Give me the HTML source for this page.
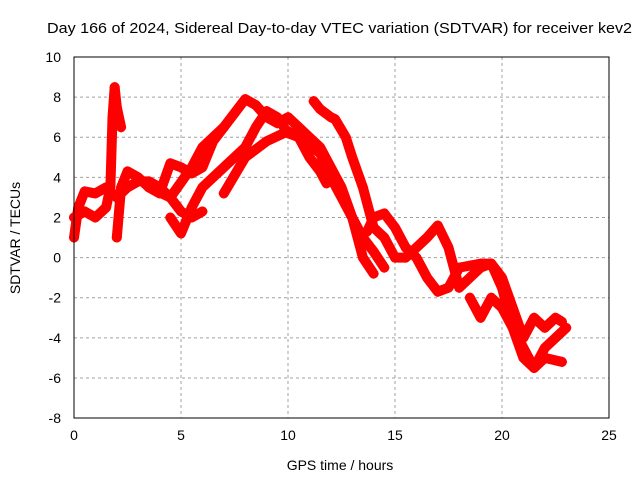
<!DOCTYPE html>
<html><head><meta charset="utf-8"><style>
body{margin:0;background:#fff}
svg text{font-family:"Liberation Sans",sans-serif;font-size:14px;fill:#000}
</style></head><body>
<svg id="c" width="640" height="480">
<text x="47" y="33" textLength="585" lengthAdjust="spacingAndGlyphs" style="font-size:15px">Day 166 of 2024, Sidereal Day-to-day VTEC variation (SDTVAR) for receiver kev2</text>
<text x="340" y="470" text-anchor="middle">GPS time / hours</text>
<text transform="translate(20,238) rotate(-90)" text-anchor="middle">SDTVAR / TECUs</text>
<g id="grid"></g><g id="marks"></g>
<rect x="74" y="57" width="535" height="361" fill="none" stroke="#000"/>
</svg>
<script>
const xTicks=[0,5,10,15,20,25];
const yTicks=[-8,-6,-4,-2,0,2,4,6,8,10];
const trA_x=[3.5,4.5,5.5,6,7,7.5,8,8.5,9,9.5,10,10.5,11,11.5,12,12.5,13,13.5,14];
const trA_y=[3.5,3,4.5,5.5,6.5,7.2,7.9,7.6,7,6.7,7,6.5,6,5.5,4.5,3.5,2,0,-0.8];
const trB_x=[4.5,5,5.5,6,7,8,8.5,9,9.5,10,10.5,11,11.5,11.8];
const trB_y=[2,1.2,2.5,3.5,4.5,5.5,6.5,7.3,7,6.2,6,5,4.3,3.7];
const trC_x=[7,8,9,10,10.5,11,11.5,12,12.5,13,13.5,14,14.5];
const trC_y=[3.2,5,5.8,6.3,6,5.6,5.2,4,3,2,1,0.3,-0.5];
const trD_x=[11.2,11.5,12,12.2,12.7,13,13.5,14,14.5,15,15.5,16,16.5,17,17.5,18,18.5,19,19.5,20,20.5,21,21.5,22,22.5,23];
const trD_y=[7.8,7.4,7,6.9,6,5,3.5,1.5,1,0,0,0.5,1,1.6,0.5,-1.5,-1,-0.5,-0.3,-1.5,-3.5,-4.5,-5.5,-4.5,-4,-3.5];
const trE_x=[13.7,14,14.5,15,15.5,16,16.5,17,17.5,18,19,19.5,20,20.5,21,21.5,22,22.5,22.8];
const trE_y=[1.3,2,2.2,1.5,0.5,0,-1,-1.7,-1.5,-0.5,-0.3,-0.3,-1,-2.5,-4,-3,-3.5,-3,-3.2];
const trF_x=[18.5,19,19.5,20,20.5,21,21.5,22,22.8];
const trF_y=[-2,-3,-2,-2.5,-3.5,-5,-5.5,-5,-5.2];
const trG_x=[0,0.2,0.5,1,1.5,2,2.5,3,3.5,4,4.5,5,5.5,6];
const trG_y=[1,2.5,3.3,3.2,3.5,3,3.5,3.8,3.8,3.5,3,2.3,2,2.3];
const trH_x=[0,0.5,1,1.5,1.7,1.8,1.9,2,2.2];
const trH_y=[2,2.3,2,2.5,3.5,7,8.5,7.5,6.5];
const trI_x=[2,2.2,2.5,3,3.5,4,4.5,5,5.5,6,6.5,7];
const trI_y=[1,3.5,4.3,4,3.5,3.2,4.7,4.5,4.2,4.5,5.8,6.5];
const series=[[trA_x,trA_y],[trB_x,trB_y],[trC_x,trC_y],[trD_x,trD_y],[trE_x,trE_y],[trF_x,trF_y],[trG_x,trG_y],[trH_x,trH_y],[trI_x,trI_y]];
const X=v=>74+v*535/25, Y=v=>257.6-v*20.06;
const NS="http://www.w3.org/2000/svg";
const grid=document.getElementById('grid'), marks=document.getElementById('marks');
function mk(tag,at,par){const e=document.createElementNS(NS,tag);for(const k in at)e.setAttribute(k,at[k]);par.appendChild(e);return e;}
xTicks.forEach(t=>{
 if(t>0&&t<25){const l=mk('line',{x1:X(t),x2:X(t),y1:57,y2:418,stroke:'#a0a0a0','stroke-dasharray':'3,3'},grid);
 
 }
 const tx=mk('text',{x:X(t),y:440,'text-anchor':'middle'},grid);tx.textContent=t;
 
 
});
yTicks.forEach(t=>{
 if(t>-8&&t<10){const l=mk('line',{x1:74,x2:609,y1:Y(t),y2:Y(t),stroke:'#a0a0a0','stroke-dasharray':'3,3'},grid);
 
 }
 const tx=mk('text',{x:61,y:Y(t)+5,'text-anchor':'end'},grid);tx.textContent=t;
 
 
});
series.forEach((s,i)=>{
 const pts=s[0].map((x,j)=>X(x)+','+Y(s[1][j])).join(' ');
 const p=mk('polyline',{points:pts,fill:'none',stroke:'#f00','stroke-width':10,'stroke-linejoin':'round','stroke-linecap':'round'},marks);
 
 
 s[0].forEach((x,j)=>{
  const m=mk('path',{d:`M${X(x)-5},${Y(s[1][j])}h10M${X(x)},${Y(s[1][j])-5}v10`,stroke:'#f00','stroke-width':1.5},marks);
  
  
 });
});
</script>
</body></html>
